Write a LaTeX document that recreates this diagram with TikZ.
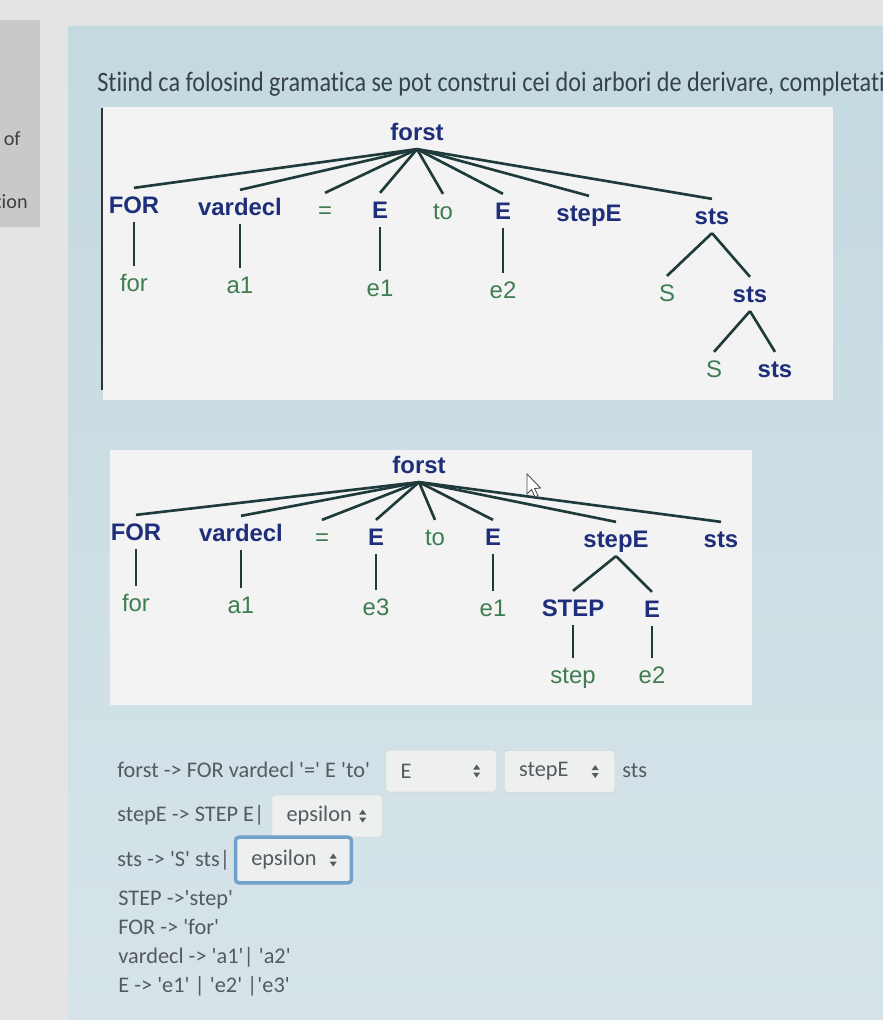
\documentclass[tikz,border=0pt]{standalone}
\usepackage{fontspec}
\setmainfont{Carlito}
\newfontfamily\treefont{Liberation Sans}
\newfontfamily\uifont{Carlito}[Ligatures=NoCommon]
\usetikzlibrary{positioning, calc}
\definecolor{PageGray}{RGB}{228,227,229}
\definecolor{SideGray}{RGB}{201,201,204}
\definecolor{PanelBlueTop}{RGB}{196,217,224}
\definecolor{PanelBlueBottom}{RGB}{214,228,233}
\definecolor{TreeBox}{RGB}{242,243,242}
\definecolor{NonTermBlue}{RGB}{30,46,122}
\definecolor{TermGreen}{RGB}{62,124,82}
\definecolor{EdgeDark}{RGB}{30,58,58}
\definecolor{HeadText}{RGB}{56,66,74}
\definecolor{UiText}{RGB}{84,90,96}
\definecolor{SelectFill}{RGB}{238,239,239}
\definecolor{SelectLine}{RGB}{214,218,220}
\definecolor{FocusBlue}{RGB}{112,162,202}

\newcommand{\selarrows}[1]{%
  \fill[UiText] ($(#1.east)+(-20,-1.5)$) -- ++(-3.5,0) -- ++(3.5,-5) -- ++(3.5,5) -- cycle;
  \fill[UiText] ($(#1.east)+(-20,1.5)$) -- ++(-3.5,0) -- ++(3.5,5) -- ++(3.5,-5) -- cycle;}

\begin{document}
\begin{tikzpicture}[x=0.02cm, y=-0.02cm,
    nt/.style={font=\treefont\bfseries\fontsize{13.6}{16}\selectfont, text=NonTermBlue,
      inner sep=0pt, outer sep=2.3pt, text height=12.2pt, text depth=2.7pt},
    tm/.style={nt, font=\treefont\fontsize{13.6}{16}\selectfont, text=TermGreen},
    branch/.style={EdgeDark, line width=1.5pt},
    gram/.style={font=\uifont\fontsize{12.7}{15}\selectfont, text=UiText, inner sep=0pt, anchor=base west},
    selbox/.style={gram, anchor=center, draw=SelectLine, fill=SelectFill, rounded corners=2pt,
      inner xsep=8.5pt, inner ysep=0pt, minimum height=23.8pt, text width=46pt, align=left},
    focus/.style={draw=FocusBlue, line width=2pt, inner xsep=9pt, text width=48pt, minimum height=26pt}]
  \useasboundingbox (0,0) rectangle (883,1020);
  % page and panels
  \fill[PageGray] (0,0) rectangle (883,1020);
  \fill[SideGray] (0,20) rectangle (40,227);
  \shade[top color=PanelBlueTop, bottom color=PanelBlueBottom] (68,27) rectangle (883,1020);
  \node[font=\uifont\fontsize{11.5}{14}\selectfont, text=black!75, anchor=base east, inner sep=0pt] (side1) at (21,146) {of};
  \node[font=\uifont\fontsize{11.5}{14}\selectfont, text=black!75, anchor=base east, inner sep=0pt] (side2) at (28,209) {tion};
  \node[font=\uifont\fontsize{16}{20}\selectfont, text=HeadText, anchor=base west, inner sep=0pt] (head) at (97,92)
    {\scalebox{0.86}[1]{Stiind ca folosind gramatica se pot construi cei doi arbori de derivare, completati}};
  \fill[TreeBox] (103,107) rectangle (833,400);
  \draw[line width=1.2pt, black!80] (102,108) -- (102,390);
  \fill[TreeBox] (110,450) rectangle (752,705);

  % first tree
  \node[nt] (r1) at (417,132) {forst};
  \node[nt] (f1) at (134,205) {FOR};
  \node[nt] (v1) at (240,207) {vardecl};
  \node[tm] (eq1) at (325,210) {=};
  \node[nt] (ea1) at (380,210) {E};
  \node[tm] (to1) at (443,211) {to};
  \node[nt] (eb1) at (503,211) {E};
  \node[nt] (s1) at (589,213) {stepE};
  \node[nt] (t1) at (712,216) {sts};
  \node[tm] (for1) at (134,283) {for};
  \node[tm] (a1) at (240,285) {a1};
  \node[tm] (e11) at (380,288) {e1};
  \node[tm] (e21) at (503,290) {e2};
  \node[tm] (S1) at (667,293) {S};
  \node[nt] (t2) at (750,294) {sts};
  \node[tm] (S2) at (714,369) {S};
  \node[nt] (t3) at (775,369) {sts};
  \foreach \c in {f1,v1,eq1,ea1,to1,eb1,s1,t1}
    \draw[branch] (r1.south) -- (\c.north);
  \draw[branch] (f1) -- (for1);
  \draw[branch] (v1) -- (a1);
  \draw[branch] (ea1) -- (e11);
  \draw[branch] (eb1) -- (e21);
  \draw[branch] (t1.south) -- (S1.north);
  \draw[branch] (t1.south) -- (t2.north);
  \draw[branch] (t2.south) -- (S2.north);
  \draw[branch] (t2.south) -- (t3.north);

  % second tree
  \node[nt] (r2) at (419,465) {forst};
  \node[nt] (f2) at (136,532) {FOR};
  \node[nt] (v2) at (241,533) {vardecl};
  \node[tm] (eq2) at (322,537) {=};
  \node[nt] (ea2) at (376,537) {E};
  \node[tm] (to2) at (435,537) {to};
  \node[nt] (eb2) at (493,537) {E};
  \node[nt] (s2) at (616,539) {stepE};
  \node[nt] (t4) at (721,539) {sts};
  \node[tm] (for2) at (136,603) {for};
  \node[tm] (a2) at (241,605) {a1};
  \node[tm] (e32) at (376,607) {e3};
  \node[tm] (e12) at (493,608) {e1};
  \node[nt] (st2) at (573,608) {STEP};
  \node[nt] (eb3) at (652,609) {E};
  \node[tm] (step2) at (573,675) {step};
  \node[tm] (e22) at (652,675) {e2};
  \foreach \c in {f2,v2,eq2,ea2,to2,eb2,s2,t4}
    \draw[branch] (r2.south) -- (\c.north);
  \draw[branch] (f2) -- (for2);
  \draw[branch] (v2) -- (a2);
  \draw[branch] (ea2) -- (e32);
  \draw[branch] (eb2) -- (e12);
  \draw[branch] (s2.south) -- (st2.north);
  \draw[branch] (s2.south) -- (eb3.north);
  \draw[branch] (st2) -- (step2);
  \draw[branch] (eb3) -- (e22);
  % mouse pointer
  \draw[fill=white, draw=black!70, line width=0.5pt] (527,474) -- (527,494) -- (531.5,489.5) -- (535,497)
    -- (538,495.5) -- (534.5,488.5) -- (540.5,488) -- cycle;

  % grammar with the select boxes
  \node[gram] (g1) at (117,777) {forst -> FOR vardecl '=' E 'to'};
  \node[selbox] (sel1) at (441,771) {E};
  \selarrows{sel1}
  \node[selbox] (sel2) at (559.5,771.5) {stepE};
  \selarrows{sel2}
  \node[gram] (g1b) at (622,777) {sts};
  \node[gram] (g2) at (117,821) {stepE -> STEP E|};
  \node[selbox] (sel3) at (327,816) {epsilon};
  \selarrows{sel3}
  \node[gram] (g3) at (117,866) {sts -> 'S' sts|};
  \node[selbox, focus] (sel4) at (293.5,860) {epsilon};
  \selarrows{sel4}
  \node[gram] (g4) at (118,905) {STEP ->'step'};
  \node[gram] (g5) at (118,934) {FOR -> 'for'};
  \node[gram] (g6) at (118,963) {vardecl -> 'a1'| 'a2'};
  \node[gram] (g7) at (118,992) {E -> 'e1' | 'e2' |'e3'};
\end{tikzpicture}
\end{document}
